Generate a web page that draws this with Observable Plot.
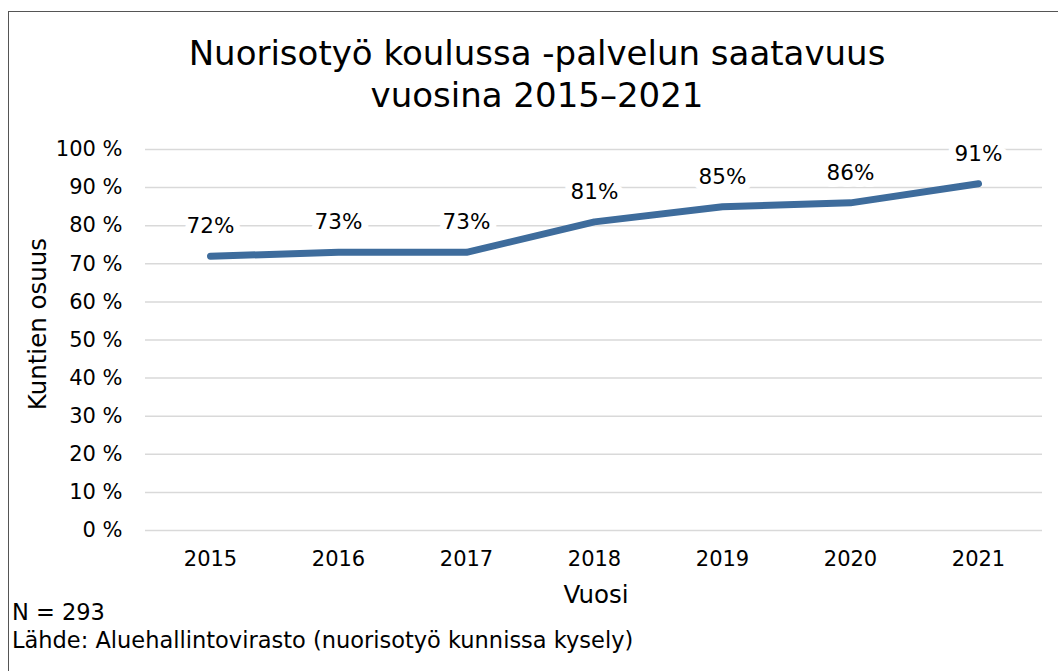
<!DOCTYPE html>
<html><head><meta charset="utf-8">
<script src="https://cdn.jsdelivr.net/npm/d3@7"></script>
<script src="https://cdn.jsdelivr.net/npm/@observablehq/plot@0.6"></script>
<style>
body{margin:0;background:#fff;}
#wrap{position:relative;width:1058px;height:671px;overflow:hidden;font-family:"DejaVu Sans",Verdana,sans-serif;color:#000;background:#fff;}
#border{position:absolute;left:8px;top:11px;width:1100px;height:700px;border-left:1.5px solid #555;border-top:1.5px solid #555;}
#title{position:absolute;left:0;top:32px;width:1074px;text-align:center;font-size:34px;line-height:42px;}
#chart{position:absolute;left:0;top:120px;}
#cap{position:absolute;left:12px;top:598px;font-size:22.5px;line-height:28px;}
</style>
</head><body>
<div id="wrap">
  <div id="border"></div>
  <div id="title">Nuorisotyö koulussa -palvelun saatavuus<br>vuosina 2015–2021</div>
  <div id="chart"></div>
  <div id="cap">N = 293<br>Lähde: Aluehallintovirasto (nuorisotyö kunnissa kysely)</div>
</div>
<script>
const years = ["2015","2016","2017","2018","2019","2020","2021"];
const values = [72, 73, 73, 81, 85, 86, 91];
const yTicks = [0,10,20,30,40,50,60,70,80,90,100];
const xLabel = "Vuosi";
const yLabel = "Kuntien osuus";

const data = years.map((y, i) => ({year: y, value: values[i]}));

const plot = Plot.plot({
  width: 1058,
  height: 500,
  marginLeft: 145,
  marginRight: 16,
  marginTop: 29,
  marginBottom: 90,
  style: {fontFamily: '"DejaVu Sans", Verdana, sans-serif', fontSize: "21px", color: "#000", background: "transparent"},
  x: {type: "band", domain: years, padding: 0},
  y: {domain: [0, 100]},
  marks: [
    Plot.gridY(yTicks, {stroke: "#d9d9d9", strokeOpacity: 1, strokeWidth: 1.5}),
    Plot.axisY(yTicks, {tickSize: 0, tickPadding: 23, tickFormat: d => d + " %", label: null, fontSize: 21}),
    Plot.axisX({tickSize: 0, tickPadding: 21, label: null, fontSize: 21}),
    Plot.text([xLabel], {frameAnchor: "bottom", dy: 72, fontSize: 24.5, dx: 2}),
    Plot.text([yLabel], {frameAnchor: "left", textAnchor: "middle", rotate: -90, dx: -107, dy: -16, fontSize: 24.5}),
    Plot.line(data, {x: "year", y: "value", stroke: "#3e6c9c", strokeWidth: 7, strokeLinecap: "round", strokeLinejoin: "round"}),
    Plot.text(data, {x: "year", y: "value", text: d => d.value + "%", dy: -30, fontSize: 21.5, fill: "#000", stroke: "white", strokeWidth: 14, paintOrder: "stroke"})
  ]
});
document.getElementById("chart").appendChild(plot);
</script>
</body></html>
